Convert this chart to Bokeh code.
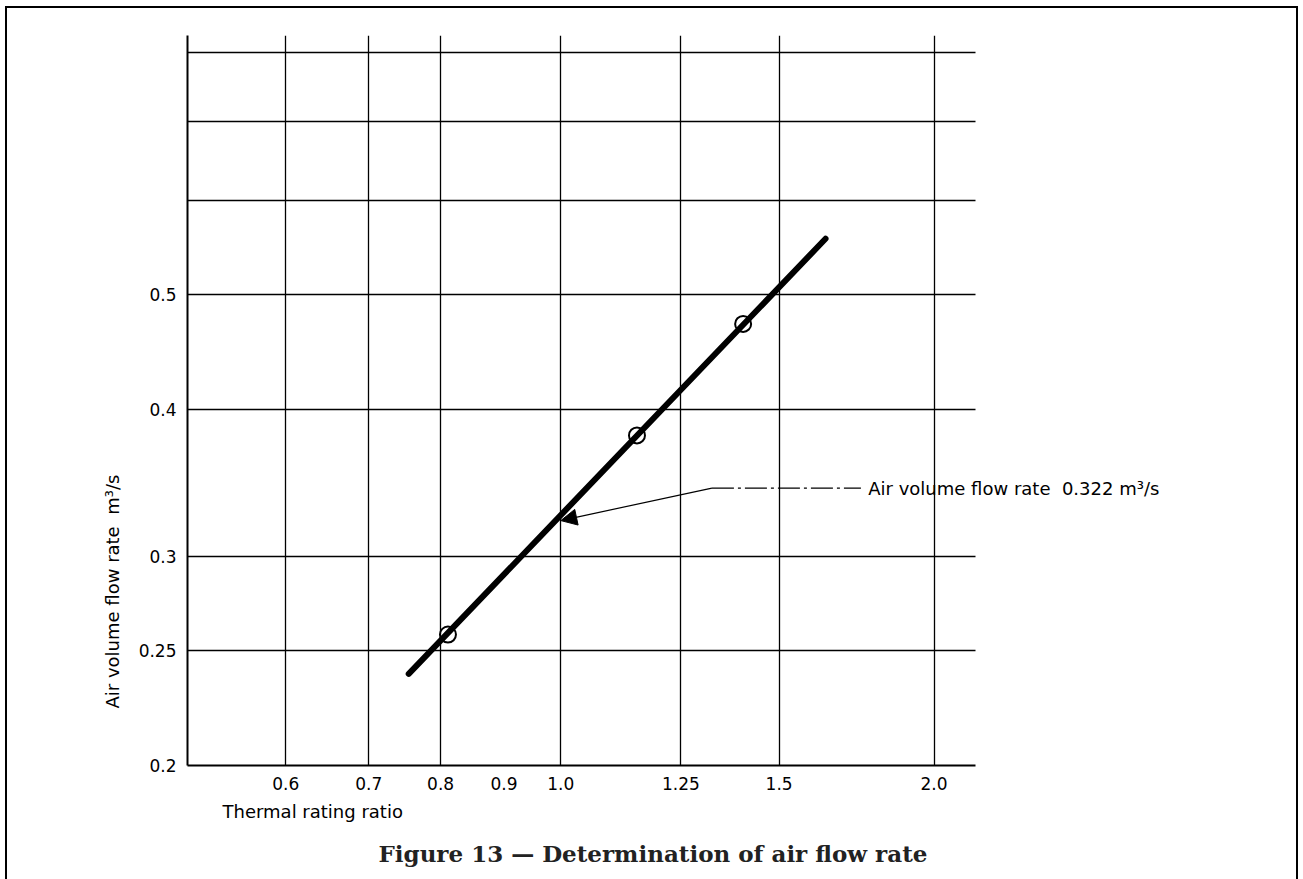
import math
from bokeh.plotting import figure
from bokeh.models import FixedTicker, Label, Arrow, NormalHead, Range1d, Title, InlineStyleSheet
from bokeh.embed import file_html
from bokeh.resources import INLINE

# ---- data ----
thermal_ratio = [0.811, 1.152, 1.403]
air_flow = [0.258, 0.380, 0.472]

fit_ratio = [0.754, 1.635]
fit_flow = [0.239, 0.557]

x_ticks = [0.6, 0.7, 0.8, 0.9, 1.0, 1.25, 1.5, 2.0]
x_labels = ["0.6", "0.7", "0.8", "0.9", "1.0", "1.25", "1.5", "2.0"]
x_grid = [0.6, 0.7, 0.8, 1.0, 1.25, 1.5, 2.0]

y_ticks = [0.2, 0.25, 0.3, 0.4, 0.5]
y_labels = ["0.2", "0.25", "0.3", "0.4", "0.5"]
y_grid = [0.25, 0.3, 0.4, 0.5, 0.6, 0.7, 0.8]

annot_ratio = 1.0
annot_flow = 0.322
leader_ratio = [1.324, 1.746]
leader_flow = [0.343, 0.343]
annot_text = "Air volume flow rate \u00a00.322 m\u00b3/s"

x_title = "Thermal rating ratio"
y_title = "Air volume flow rate \u00a0m\u00b3/s"
fig_title = "Figure 13 \u2014 Determination of air flow rate"

FONT = "DejaVu Sans"

# grid area spans 0.5..2.16 horizontally; frame extends further right so
# the annotation text is not clipped
X_MIN, X_GRID_MAX = 0.5, 2.16
GRID_PX = 788
FRAME_PX = 1103
x_end = X_MIN * 10 ** (math.log10(X_GRID_MAX / X_MIN) * FRAME_PX / GRID_PX)

p = figure(
    width=1303, height=879,
    x_axis_type="log", y_axis_type="log",
    x_range=Range1d(X_MIN, x_end), y_range=Range1d(0.2, 0.827),
    output_backend="svg", toolbar_location=None,
    min_border_left=187, min_border_right=1303 - 187 - FRAME_PX,
    min_border_top=35, min_border_bottom=114,
)
p.outline_line_color = None
p.background_fill_color = "white"
p.border_fill_color = "white"

# outer page frame (CSS): left, top and right edges
frame_css = """
.bk-Canvas::after {
  content: ""; position: absolute; left: 5px; top: 5.5px; right: 5px; bottom: -10px;
  border: 2.5px solid #000; z-index: 1000; pointer-events: none;
}
"""
p.stylesheets = [InlineStyleSheet(css=frame_css)]

# axes
p.xaxis.ticker = FixedTicker(ticks=x_ticks)
p.xaxis.major_label_overrides = {t: l for t, l in zip(x_ticks, x_labels)}
p.xaxis.bounds = (X_MIN, X_GRID_MAX)
p.yaxis.ticker = FixedTicker(ticks=y_ticks)
p.yaxis.major_label_overrides = {t: l for t, l in zip(y_ticks, y_labels)}
for ax in (p.xaxis, p.yaxis):
    ax.axis_line_color = "black"
    ax.axis_line_width = 2
    ax.major_tick_line_color = None
    ax.minor_tick_line_color = None
    ax.major_label_text_font = FONT
    ax.major_label_text_font_size = "17px"
    ax.major_label_text_color = "black"
p.xaxis.major_label_standoff = 5
p.yaxis.major_label_standoff = 5

# grids
p.xgrid.ticker = FixedTicker(ticks=x_grid)
p.ygrid.ticker = FixedTicker(ticks=y_grid)
for g in (p.xgrid, p.ygrid):
    g.grid_line_color = "black"
    g.grid_line_width = 1.3
    g.grid_line_alpha = 1.0
    g.minor_grid_line_color = None
yg = p.ygrid[0]
if "cross_bounds" in yg.properties():
    yg.cross_bounds = (X_MIN, X_GRID_MAX)
else:
    yg.grid_line_color = None
    p.segment(x0=[X_MIN] * len(y_grid), x1=[X_GRID_MAX] * len(y_grid),
              y0=y_grid, y1=y_grid, line_color="black", line_width=1.3)

# fitted line and measured points
p.line(fit_ratio, fit_flow, line_color="black", line_width=6, line_cap="round")
p.scatter(thermal_ratio, air_flow, marker="circle", size=16,
          fill_color=None, line_color="black", line_width=2)

# leader with arrow
p.line(leader_ratio, leader_flow, line_color="black", line_width=1.2,
       line_dash="22 4 3 4")
p.add_layout(Arrow(end=NormalHead(size=16, fill_color="black", line_color="black"),
                   x_start=leader_ratio[0], y_start=leader_flow[0],
                   x_end=annot_ratio, y_end=annot_flow,
                   line_color="black", line_width=1.2))
p.add_layout(Label(x=1.77, y=leader_flow[0], text=annot_text,
                   text_baseline="middle", text_align="left",
                   text_font=FONT, text_font_size="18px", text_color="black"))

# axis titles and caption as side titles (not clipped)
p.add_layout(Title(text=x_title, align="left", offset=35, standoff=12,
                   text_font=FONT, text_font_size="18px",
                   text_font_style="normal", text_color="black"), "below")
p.add_layout(Title(text=fig_title, align="left", offset=191, standoff=20,
                   text_font="DejaVu Serif", text_font_style="bold",
                   text_font_size="23px", text_color="#222222"), "below")
p.add_layout(Title(text=y_title, align="left", offset=57, standoff=26,
                   text_font=FONT, text_font_size="18px",
                   text_font_style="normal", text_color="black"), "left")

open("out.html", "w").write(file_html(p, INLINE))
